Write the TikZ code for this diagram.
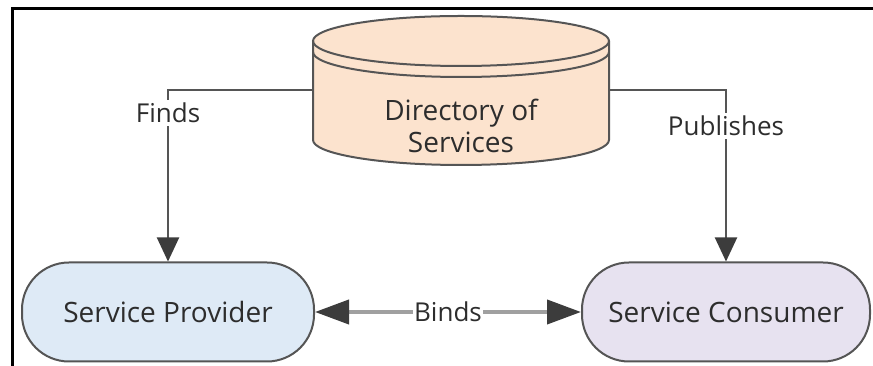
\documentclass[tikz,border=0pt]{standalone}
\usepackage{fontspec}
\setmainfont{Open Sans}
\usepackage{tikz}
\usepackage{xcolor}
\usetikzlibrary{arrows.meta}
\definecolor{provfill}{RGB}{222,234,246}
\definecolor{consfill}{RGB}{231,226,240}
\definecolor{dirfill}{RGB}{252,227,206}
\definecolor{edgegray}{RGB}{85,85,85}
\definecolor{tipgray}{RGB}{60,60,60}
\definecolor{bindgray}{RGB}{160,160,160}
\definecolor{textgray}{RGB}{45,45,45}
\newcommand{\boxfont}{\fontsize{28}{32}\selectfont}
\newcommand{\lblfont}{\fontsize{26}{30}\selectfont}

\begin{document}
\begin{tikzpicture}[x=1pt,y=1pt,every node/.style={inner sep=0pt,text=textgray},
  svcbox/.style={rectangle,rounded corners=47pt,draw=edgegray,line width=2pt,
    minimum width=292pt,minimum height=99pt,font=\boxfont},
  dirline/.style={draw=edgegray,line width=2pt},
  findline/.style={draw=edgegray,line width=2pt,
    arrows={-Triangle[length=24pt,width=22pt,color=tipgray]}},
  bindline/.style={draw=bindgray,line width=4pt,
    arrows={Triangle[length=34pt,width=24pt,color=tipgray]-Triangle[length=34pt,width=24pt,color=tipgray]}},
  lbl/.style={fill=white,inner sep=3pt,font=\lblfont}]
\useasboundingbox (0,0) rectangle (873,366);
\draw[line width=3pt] (12,0) -- (12,357) -- (873,357);
% directory cylinder
\fill[dirfill] (313,325) -- (313,226) arc[start angle=180,end angle=360,x radius=148,y radius=25]
  -- (609,325) arc[start angle=0,end angle=180,x radius=148,y radius=25] -- cycle;
\draw[dirline] (313,325) -- (313,226) arc[start angle=180,end angle=360,x radius=148,y radius=25] -- (609,325);
\draw[dirline] (461,325) ellipse[x radius=148,y radius=25];
\draw[dirline] (313,314) arc[start angle=180,end angle=360,x radius=148,y radius=25];
\node (dir) at (461,276) [minimum width=296pt,minimum height=150pt] {};
\node (dirtext) at (461,240) [align=center,font=\boxfont] {Directory of\\Services};
% services
\node (prov) at (168,54) [svcbox,fill=provfill] {Service Provider};
\node (cons) at (726,54) [svcbox,fill=consfill,minimum width=288pt] {Service Consumer};
\draw[findline] (dir.west) -| node[lbl,pos=0.566] {Finds} (prov.north);
\draw[findline] (dir.east) -| node[lbl,pos=0.604] {Publishes} (cons.north);
\draw[bindline] (prov) -- node[lbl,inner sep=1pt] {Binds} (cons);
\end{tikzpicture}
\end{document}
